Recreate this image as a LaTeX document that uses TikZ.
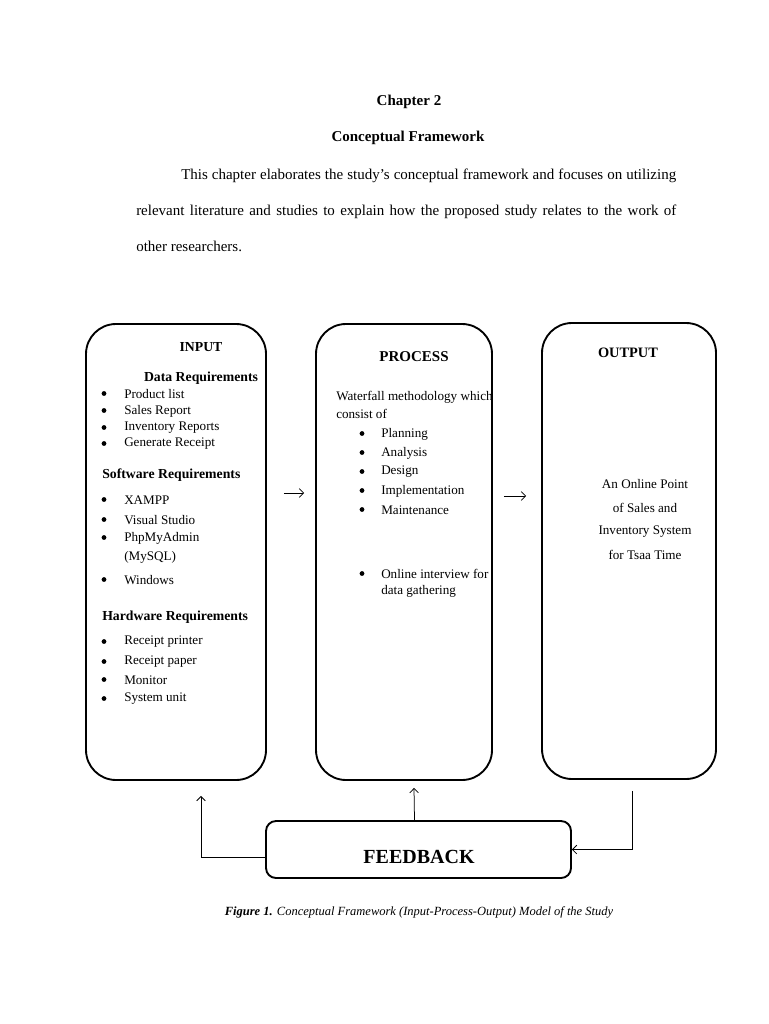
\documentclass[tikz,border=0pt]{standalone}
\usepackage{fontspec}
\setmainfont{Liberation Serif}
\usetikzlibrary{arrows.meta,calc}

\begin{document}
\begin{tikzpicture}
[x=0.8pt,y=-0.8pt,
  boxDecorate/.style={draw,line width=1.5pt,rounded corners=24pt,minimum height=364.8pt},
  feedDecorate/.style={draw,line width=1.5pt,rounded corners=8pt,minimum width=244pt,minimum height=45.6pt},
  lineDecorate/.style={line width=0.6pt,-{Straight Barb[length=3.5pt,width=7pt]}},
  titleDecorate/.style={inner sep=0pt,font=\bfseries\fontsize{12}{14}\selectfont},
  headDecorate/.style={inner sep=0pt,font=\bfseries\fontsize{11}{13}\selectfont},
  itemDecorate/.style={inner sep=0pt,anchor=west,font=\fontsize{10.5}{12}\selectfont},
  textDecorate/.style={inner sep=0pt,font=\fontsize{10.5}{12}\selectfont},
  dotDecorate/.style={circle,fill,inner sep=0pt,minimum size=3.8pt}]
\useasboundingbox (0,0) rectangle (768,1024);
%% page heading and text
\node[titleDecorate] (chapter) at (409,102) {Chapter 2};
\node[titleDecorate] (framework) at (408,138) {Conceptual Framework};
\node[inner sep=0pt,anchor=north west,text width=432pt,align=justify,
  font=\fontsize{12}{28.8}\selectfont] (para) at (136,169)
  {\hspace*{36pt}This chapter elaborates the study's conceptual framework and focuses on utilizing\linebreak
  relevant literature and studies to explain how the proposed study relates to the work of\linebreak
  other researchers.};
%% boxes
\node[boxDecorate,minimum width=144pt] (inbox) at (176,552) {};
\node[boxDecorate,minimum width=140.8pt] (procbox) at (404,552) {};
\node[boxDecorate,minimum width=139.2pt] (outbox) at (629,551) {};
\node[feedDecorate] (fbbox) at (418.5,849.5) {};
\node[inner sep=0pt,font=\bfseries\fontsize{16}{18}\selectfont] (fbtext) at (419,857) {FEEDBACK};
%% input
\node[headDecorate] (intitle) at (201,347) {INPUT};
\node[headDecorate] (datareq) at (201,378) {Data Requirements};
\node[headDecorate,anchor=west] (softreq) at (102,475) {Software Requirements};
\node[headDecorate,anchor=west] (hardreq) at (102,617) {Hardware Requirements};
\foreach \nodename/\y/\txt in {
  prod/394/Product list,
  sales/411/Sales Report,
  inv/428/Inventory Reports,
  rcpt/444/Generate Receipt,
  xampp/500/XAMPP,
  vstudio/520/Visual Studio,
  phpadmin/538/PhpMyAdmin,
  windows/580/Windows,
  printer/642/Receipt printer,
  paper/662/Receipt paper,
  monitor/680/Monitor,
  sysunit/699/System unit}
{
  \node[dotDecorate] (\nodename dot) at (104,\y-0.5) {};
  \node[itemDecorate] (\nodename) at (124,\y) {\txt};
}
\node[itemDecorate] (mysql) at (124,557) {(MySQL)};
%% process
\node[inner sep=0pt,font=\bfseries\fontsize{12}{14}\selectfont] (proctitle) at (414,357) {PROCESS};
\node[itemDecorate] (waterfall) at (336,397) {Waterfall methodology which};
\node[itemDecorate] (consist) at (336,414) {consist of};
\foreach \nodename/\y/\txt in {
  plan/434/Planning,
  anal/453/Analysis,
  design/472/Design,
  impl/491/Implementation,
  maint/510/Maintenance,
  interview/574/Online interview for}
{
  \node[dotDecorate] (\nodename dot) at (362,\y-0.5) {};
  \node[itemDecorate] (\nodename) at (381,\y) {\txt};
}
\node[itemDecorate] (gather) at (381,591) {data gathering};
%% output
\node[inner sep=0pt,font=\bfseries\fontsize{11.5}{13}\selectfont] (outtitle) at (628,353) {OUTPUT};
\foreach \nodename/\y/\txt in {
  out1/484/An Online Point,
  out2/508/of Sales and,
  out3/532/Inventory System,
  out4/555/for Tsaa Time}
{
  \node[textDecorate] (\nodename) at (645,\y) {\txt};
}
%% arrows
\draw[lineDecorate] ($(inbox.east)+(17,-59)$) -- ($(procbox.west)+(-11,-59)$);
\draw[lineDecorate] ($(procbox.east)+(11,-56)$) -- ($(outbox.west)+(-15,-55)$);
\draw[lineDecorate] ($(fbbox.west)+(0,8)$) -| ($(inbox.south)+(25,15)$);
\draw[lineDecorate] ($(fbbox.north)+(-4,0)$) -- ($(procbox.south)+(10,7)$);
\draw[lineDecorate] ($(outbox.south)+(3,11)$) |- (fbbox.east);
%% caption
\node[inner sep=0pt,font=\itshape\fontsize{10}{12}\selectfont] (caption) at (419,912)
  {\textbf{Figure 1.} Conceptual Framework (Input-Process-Output) Model of the Study};
\end{tikzpicture}
\end{document}
